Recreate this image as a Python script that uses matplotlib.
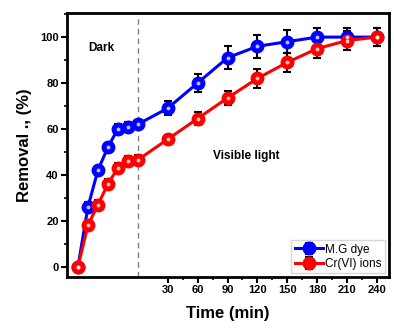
import numpy as np
import matplotlib.pyplot as plt
from matplotlib.ticker import MultipleLocator, FixedLocator

# time (min): dark phase uses negative times, light starts at 0
time = [-60, -50, -40, -30, -20, -10, 0, 30, 60, 90, 120, 150, 180, 210, 240]
mg_dye = [0, 26, 42, 52, 60, 61, 62, 69, 80, 91, 96, 98, 100, 100, 100]
mg_err = [0, 2, 2, 2, 2, 2, 2, 3, 4, 5, 5, 5, 4, 4, 4]
cr_ions = [0, 18, 27, 36, 43, 46, 46.5, 55.5, 64.5, 73.5, 82, 89, 95, 98.5, 100]
cr_err = [0, 2, 2, 2, 2, 2, 2, 2, 3, 3, 4, 4, 4, 4, 4]
xticks = [30, 60, 90, 120, 150, 180, 210, 240]

plt.rcParams['font.family'] = ['Liberation Sans', 'DejaVu Sans']
plt.rcParams['font.weight'] = 'bold'

fig = plt.figure(figsize=(3.94, 3.35), dpi=100)
ax = fig.add_axes([67 / 394, 1 - 277 / 335, 322 / 394, 264 / 335])

for y, err, c, lab in [(mg_dye, mg_err, '#0000ff', 'M.G dye'),
                       (cr_ions, cr_err, '#ff0000', 'Cr(VI) ions')]:
    ax.errorbar(time, y, yerr=err, color=c, lw=2.2, marker='o', ms=9,
                mec=c, mfc=c, ecolor='black', elinewidth=1.5, capsize=3,
                capthick=1.5, label=lab, zorder=3)
    # highlight to mimic the shaded spheres
    ax.plot(time, y, ls='none', marker='o', ms=2.8, mfc='white',
            mec='none', alpha=0.75, zorder=4)

ax.axvline(0, color='gray', ls=(0, (4, 3)), lw=1, zorder=1)

ax.set_xlim(-71, 252)
ax.set_ylim(-4.5, 110.5)
ax.xaxis.set_major_locator(FixedLocator(xticks))
ax.xaxis.set_minor_locator(FixedLocator([45, 75, 105, 135, 165, 195, 225]))
ax.yaxis.set_major_locator(MultipleLocator(20))
ax.yaxis.set_minor_locator(MultipleLocator(10))
ax.set_yticks([0, 20, 40, 60, 80, 100])

ax.tick_params(which='major', direction='out', length=4, width=1.5,
               labelsize=8, pad=2)
ax.tick_params(which='minor', direction='out', length=2.5, width=1.2)
for s in ax.spines.values():
    s.set_linewidth(2)

ax.set_xlabel('Time (min)', fontsize=12, fontweight='bold', labelpad=8)
ax.set_ylabel('Removal ., (%)', fontsize=12, fontweight='bold', labelpad=6)

ax.text(-50, 94, 'Dark', fontsize=8.5)
ax.text(75, 47, 'Visible light', fontsize=8.5)

leg = ax.legend(loc='lower right', fontsize=8.5, frameon=True, fancybox=False,
                edgecolor='#cccccc', borderpad=0.3, handlelength=2.4,
                handletextpad=0.2, labelspacing=0.2, borderaxespad=0.3)
for t in leg.get_texts():
    t.set_fontweight('normal')

fig.savefig('out.png', dpi=100)
